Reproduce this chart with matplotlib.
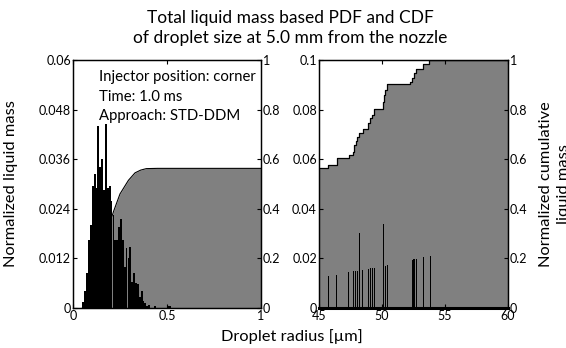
import matplotlib
matplotlib.use("Agg")
import matplotlib.pyplot as plt
import numpy as np

plt.rcParams["font.family"] = ["Lato", "DejaVu Sans"]

# --- left panel: radius 0..1 um ---
pdf_left_r = [0.055, 0.065, 0.075, 0.085, 0.095, 0.105, 0.115, 0.125, 0.135, 0.145,
              0.155, 0.165, 0.175, 0.185, 0.195, 0.205, 0.215, 0.225, 0.235, 0.245,
              0.255, 0.265, 0.275, 0.285, 0.295, 0.305, 0.315, 0.325, 0.335, 0.345,
              0.355, 0.365, 0.375, 0.385, 0.395, 0.405, 0.435, 0.505, 0.515]
pdf_left = [0.0015, 0.004, 0.0085, 0.0165, 0.020, 0.0295, 0.0325, 0.029, 0.044, 0.034,
            0.036, 0.0285, 0.0445, 0.029, 0.0295, 0.026, 0.0225, 0.0165, 0.0165, 0.0195,
            0.0215, 0.0165, 0.010, 0.0145, 0.012, 0.0148, 0.0063, 0.0084, 0.006, 0.0058,
            0.0027, 0.004, 0.0017, 0.0013, 0.0005, 0.0007, 0.0005, 0.0005, 0.0005]
cdf_left_r = [0.05, 0.07, 0.10, 0.13, 0.16, 0.19, 0.216, 0.25, 0.295, 0.33, 0.36, 0.39, 0.45, 1.0]
cdf_left = [0.0, 0.01, 0.07, 0.16, 0.25, 0.33, 0.39, 0.46, 0.515, 0.545, 0.556, 0.562, 0.563, 0.563]

# --- right panel: radius 45..60 um ---
pdf_right_r = [45.77, 46.41, 47.36, 47.73, 47.87, 48.03, 48.19, 48.48, 48.90, 49.06, 49.25,
               49.38, 50.12, 50.26, 50.44, 52.41, 52.51, 52.59, 52.72, 53.28, 53.81]
pdf_right = [0.0128, 0.0133, 0.0144, 0.0148, 0.0149, 0.0149, 0.0303, 0.0152, 0.0159, 0.016,
             0.0163, 0.0163, 0.0339, 0.017, 0.0172, 0.0195, 0.0196, 0.0196, 0.0199, 0.0205,
             0.0209]
cdf_right_r = [45.0, 45.74, 46.40, 47.38, 47.67, 47.78, 47.90, 48.05, 48.20, 48.52, 48.90,
               49.02, 49.20, 49.39, 50.05, 50.16, 50.26, 50.42, 52.22, 52.35, 52.54, 52.70,
               53.28, 53.75, 60.0]
cdf_right = [0.563, 0.576, 0.603, 0.616, 0.63, 0.657, 0.674, 0.69, 0.704, 0.721, 0.745,
             0.765, 0.78, 0.802, 0.832, 0.859, 0.879, 0.902, 0.913, 0.929, 0.946, 0.964,
             0.982, 1.0, 1.0]

yticks_left = [0, 0.012, 0.024, 0.036, 0.048, 0.06]
yticks_left_lbl = ["0", "0.012", "0.024", "0.036", "0.048", "0.06"]
yticks_right = [0, 0.02, 0.04, 0.06, 0.08, 0.1]
yticks_right_lbl = ["0", "0.02", "0.04", "0.06", "0.08", "0.1"]
cdf_ticks = [0, 0.2, 0.4, 0.6, 0.8, 1]
cdf_ticks_lbl = ["0", "0.2", "0.4", "0.6", "0.8", "1"]

GRAY = "#808080"
TICK_FS = 9

fig = plt.figure(figsize=(5.66, 3.48), dpi=100)
axL = fig.add_axes([73 / 566, 40 / 348, 188 / 566, 248 / 348])
axR = fig.add_axes([319 / 566, 40 / 348, 189 / 566, 248 / 348])


def style(ax):
    ax.tick_params(direction="in", length=3, width=0.8, labelsize=TICK_FS, pad=1.5)
    for s in ax.spines.values():
        s.set_linewidth(0.9)


# left panel
axL2 = axL.twinx()
axL2.fill_between(cdf_left_r, cdf_left, 0, color=GRAY, lw=0)
axL2.plot(cdf_left_r, cdf_left, color="black", lw=0.8)
axL2.set_ylim(0, 1)
axL2.set_yticks(cdf_ticks)
axL2.set_yticklabels(cdf_ticks_lbl)
style(axL2)

axL.bar(pdf_left_r, pdf_left, width=0.0095, color="black", edgecolor="none")
axL.set_xlim(0, 1)
axL.set_ylim(0, 0.06)
axL.set_xticks([0, 0.5, 1])
axL.set_xticklabels(["0", "0.5", "1"])
axL.set_yticks(yticks_left)
axL.set_yticklabels(yticks_left_lbl)
axL.tick_params(top=True)
style(axL)
axL.set_zorder(axL2.get_zorder() + 1)
axL.patch.set_visible(False)
axL.set_ylabel("Normalized liquid mass", fontsize=11.8)
axL.yaxis.set_label_coords(-0.29, 0.5)

axL.text(0.138, 0.0559, "Injector position: corner", fontsize=10.7, va="center")
axL.text(0.138, 0.0511, "Time: 1.0 ms", fontsize=10.7, va="center")
axL.text(0.138, 0.0464, "Approach: STD-DDM", fontsize=10.7, va="center")

# right panel
axR2 = axR.twinx()
axR2.fill_between(cdf_right_r, cdf_right, 0, step="post", color=GRAY, lw=0)
axR2.step(cdf_right_r, cdf_right, where="post", color="black", lw=0.9)
axR2.set_ylim(0, 1)
axR2.set_yticks(cdf_ticks)
axR2.set_yticklabels(cdf_ticks_lbl)
style(axR2)
axR2.set_ylabel("Normalized cumulative\nliquid mass", fontsize=11.8, linespacing=1.35)
axR2.yaxis.set_label_coords(1.165, 0.5)

axR.bar(pdf_right_r, pdf_right, width=0.08, color="black", edgecolor="none")
axR.set_xlim(45, 60)
axR.set_ylim(0, 0.1)
axR.set_xticks([45, 50, 55, 60])
axR.set_xticklabels(["45", "50", "55", "60"])
axR.set_yticks(yticks_right)
axR.set_yticklabels(yticks_right_lbl)
axR.tick_params(top=True)
style(axR)
axR.spines["bottom"].set_linewidth(2.2)
axR.set_zorder(axR2.get_zorder() + 1)
axR.patch.set_visible(False)

fig.text(0.516, 0.032, "Droplet radius [\u00b5m]", fontsize=11.8, ha="center", va="center")
fig.text(0.513, 1 - 18 / 348, "Total liquid mass based PDF and CDF", fontsize=12.5,
         ha="center", va="center")
fig.text(0.513, 1 - 38 / 348, "of droplet size at 5.0 mm from the nozzle", fontsize=12.5,
         ha="center", va="center")

fig.savefig("out.png", dpi=100, facecolor="white")
